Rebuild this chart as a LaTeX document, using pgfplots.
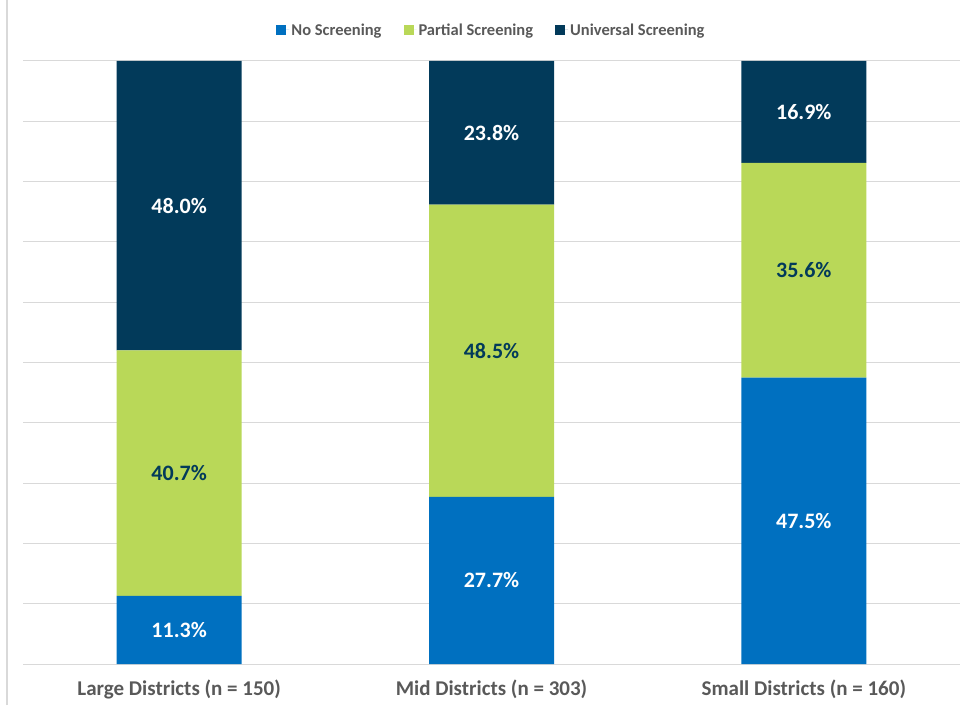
\documentclass[border=0pt]{standalone}
\usepackage{pgfplots}
\pgfplotsset{compat=1.18}
\usepackage{fontspec}
\setmainfont{Carlito}
\definecolor{cblue}{RGB}{0,112,192}
\definecolor{cgreen}{RGB}{185,216,88}
\definecolor{cnavy}{RGB}{2,58,90}
\definecolor{cgray}{RGB}{89,89,89}
\definecolor{cgrid}{RGB}{217,217,217}
\begin{document}
\begin{tikzpicture}
\path[use as bounding box] (0pt,0pt) rectangle (965pt,707pt);
\draw[cgrid, line width=1.2pt] (7pt,2pt) -- (7pt,707pt);
\begin{axis}[
  at={(23pt,43pt)}, anchor=south west,
  scale only axis, width=937pt, height=603pt,
  ybar stacked, bar width=125pt,
  xmin=-0.5, xmax=2.5, ymin=0, ymax=100,
  xtick={0,1,2},
  xticklabels={Large Districts (n = 150), Mid Districts (n = 303), Small Districts (n = 160)},
  ytick={0,10,...,100}, yticklabels={},
  ymajorgrids, grid style={cgrid, line width=1pt},
  axis line style={draw=none},
  major tick length=0pt,
  x tick label style={font=\bfseries\fontsize{21}{23}\selectfont, text=cgray, yshift=-12pt},
  legend columns=3,
  legend style={draw=none, fill=none, at={(axis description cs:0.5,1.0514)}, anchor=center,
    font=\bfseries\fontsize{16.5}{18}\selectfont, text=cgray,
    /tikz/every even column/.append style={column sep=20pt}},
  legend image code/.code={\fill[#1] (0pt,-5pt) rectangle (10pt,5pt); \path (0pt,0pt) -- (13pt,0pt);},
]
\addplot[fill=cblue, draw=none] coordinates {(0,11.3) (1,27.7) (2,47.5)};
\addlegendentry{No Screening}
\addplot[fill=cgreen, draw=none] coordinates {(0,40.7) (1,48.5) (2,35.6)};
\addlegendentry{Partial Screening}
\addplot[fill=cnavy, draw=none] coordinates {(0,48.0) (1,23.8) (2,16.9)};
\addlegendentry{Universal Screening}
\end{axis}
\begin{axis}[
  at={(23pt,43pt)}, anchor=south west,
  scale only axis, width=937pt, height=603pt,
  xmin=-0.5, xmax=2.5, ymin=0, ymax=100,
  hide axis,
  nodes near coords={\pgfplotspointmeta\%},
  point meta=explicit symbolic,
  every node near coord/.append style={anchor=center, font=\bfseries\fontsize{22}{24}\selectfont},
]
\addplot[only marks, mark=none, every node near coord/.append style={text=white}]
  coordinates {(0,5.65)[11.3] (1,13.85)[27.7] (2,23.75)[47.5]};
\addplot[only marks, mark=none, every node near coord/.append style={text=cnavy}]
  coordinates {(0,31.65)[40.7] (1,51.95)[48.5] (2,65.3)[35.6]};
\addplot[only marks, mark=none, every node near coord/.append style={text=white}]
  coordinates {(0,76.0)[48.0] (1,88.1)[23.8] (2,91.55)[16.9]};
\end{axis}
\end{tikzpicture}
\end{document}
